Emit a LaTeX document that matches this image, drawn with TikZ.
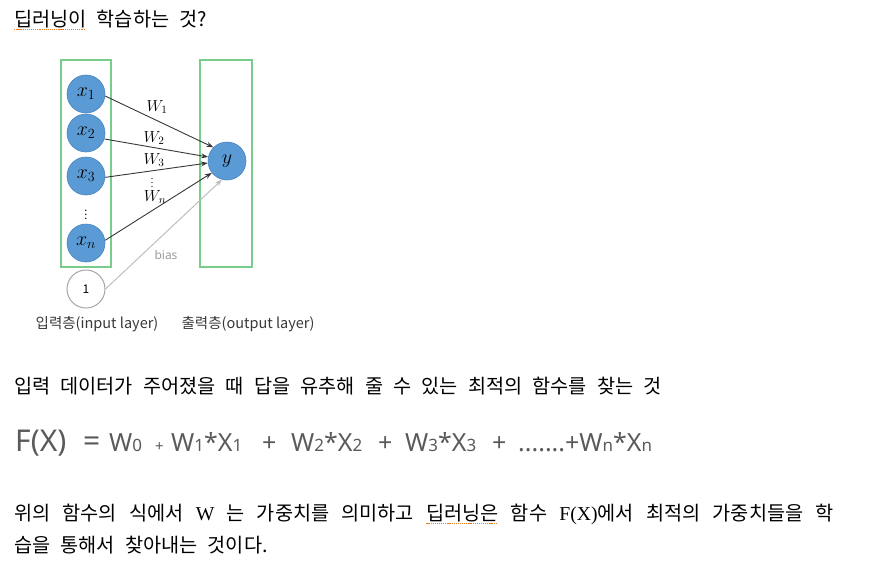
\RequirePackage{fix-cm}
\documentclass[tikz,border=0pt]{standalone}
\usepackage{fontspec}
\setmainfont{Noto Sans CJK KR}[WordSpace=2.3]
\newfontfamily\labfont{Noto Sans CJK KR}
\newfontfamily\formfont{Noto Sans}
\newfontfamily\serifw{Liberation Serif}
\usetikzlibrary{positioning,arrows.meta}
\definecolor{NodeBlue}{RGB}{91,155,213}
\definecolor{NodeEdge}{RGB}{72,132,192}
\definecolor{LayerGreen}{RGB}{120,205,140}
\definecolor{ArrowGray}{RGB}{55,55,55}
\definecolor{BiasGray}{RGB}{190,190,190}
\definecolor{FormGray}{RGB}{90,90,90}
\definecolor{SpellOrange}{RGB}{235,125,30}
\tikzset{
	neuron/.style={circle,fill=NodeBlue,draw=NodeEdge,line width=0.6pt,minimum size=38pt,inner sep=0pt,font=\fontsize{20}{20}\selectfont},
	onenode/.style={circle,fill=white,draw=black!35,line width=1pt,minimum size=38pt,inner sep=0pt,font=\labfont\fontsize{12}{12}\selectfont},
	layerbox/.style={draw=LayerGreen,line width=1.3pt,minimum width=50pt,minimum height=207pt,inner sep=0pt},
	warrow/.style={draw=ArrowGray,line width=0.9pt,-{Stealth[length=7pt,width=5pt]}},
	biasarrow/.style={draw=BiasGray,line width=1pt,-{Stealth[length=7pt,width=5pt]}},
	wlabel/.style={inner sep=0pt,font=\fontsize{16}{16}\selectfont},
	layerlabel/.style={inner sep=0pt,text=black!78,font=\labfont\fontsize{14.5}{14.5}\selectfont},
	textline/.style={anchor=base west,inner sep=0pt,font=\fontsize{19.7}{19.7}\selectfont},
	term/.style={anchor=base west,inner sep=0pt,text=FormGray,font=\formfont\fontsize{25}{25}\selectfont},
}
\newcommand{\sm}[1]{{\fontsize{17}{17}\selectfont #1}}
% dotted spell-check mark under a word
\newcommand{\spellul}[1]{\setbox0\hbox{#1}\rlap{\raisebox{-4pt}{\textcolor{SpellOrange}{\leaders\hbox{\rule{1.2pt}{1.2pt}\kern0.9pt}\hskip\wd0}}}\box0\relax}

\begin{document}
\begin{tikzpicture}[x=1pt,y=-1pt]
\useasboundingbox (0,0) rectangle (883,565);

\node[textline] (title) at (14,26) {\spellul{딥러닝이} 학습하는 것?};

% input / output layers
\node[layerbox] (inbox) at (86,163.5) {};
\node[layerbox,minimum width=52pt] (outbox) at (226,163.5) {};
\foreach \n/\yy/\lab in {x1/94/x_1,x2/133/x_2,x3/176/x_3,xn/243/x_n}
	\node[neuron] (\n) at (86,\yy) {$\lab$};
\node[inner sep=0pt,font=\fontsize{11}{11}\selectfont] (dots) at (86,212) {$\vdots$};
\node[onenode] (one) at (86,289) {1};
\node[neuron] (y) at (227,161) {$y$};

% weights
\foreach \s/\a/\t in {x1/-6/135,x2/-18/168,x3/-4/186,xn/8/218}
	\draw[warrow] (\s.\a) -- (y.\t);
\draw[biasarrow] (one.0) -- (y.255);

\foreach \w/\xx/\yy/\lab in {w1/157/107/W_1,w2/154/138/W_2,w3/154/160/W_3,wn/155/197/W_n}
	\node[wlabel] (\w) at (\xx,\yy) {$\lab$};
\node[inner sep=0pt,font=\fontsize{9}{9}\selectfont] (wdots) at (152,180) {$\vdots$};
\node[font=\formfont\fontsize{12}{12}\selectfont,text=black!40] (biaslab) at (166,255) {bias};

\node[layerlabel] (inlab) at (97,324) {입력층(input layer)};
\node[layerlabel] (outlab) at (248,324) {출력층(output layer)};

% text
\node[textline] (goal) at (14,393) {입력 데이터가 주어졌을 때 답을 유추해 줄 수 있는 최적의 함수를 찾는 것};

\node[term,font=\formfont\fontsize{30}{30}\selectfont] (fx) at (15,451) {F(X)};
\node[term,font=\formfont\fontsize{30}{30}\selectfont] (eq) at (83,451) {=};
\node[term] (t0) at (109,451) {W\sm{0}};
\node[term,font=\formfont\fontsize{15}{15}\selectfont] (p0) at (155,451) {+};
\node[term] (t1) at (171,451) {W\sm{1}*X\sm{1}};
\node[term] (p1) at (262,451) {+};
\node[term] (t2) at (291,451) {W\sm{2}*X\sm{2}};
\node[term] (p2) at (378,451) {+};
\node[term] (t3) at (405,451) {W\sm{3}*X\sm{3}};
\node[term] (p3) at (492,451) {+};
\node[term] (tn) at (518,451) {.......+W\sm{n}*X\sm{n}};

\node[textline] (para1) at (14,520) {\spaceskip=12.2pt\relax 위의 함수의 식에서 {\serifw W} 는 가중치를 의미하고 \spellul{딥러닝은} 함수 {\serifw F(X)}에서 최적의 가중치들을 학};
\node[textline] (para2) at (14,552) {습을 통해서 찾아내는 것이다.};
\end{tikzpicture}
\end{document}
